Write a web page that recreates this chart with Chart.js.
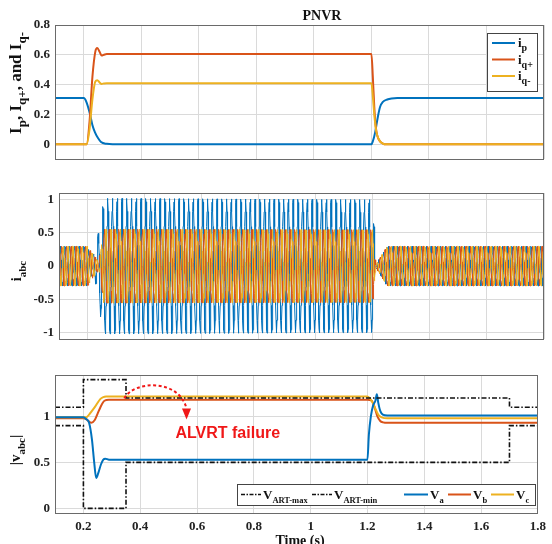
<!DOCTYPE html>
<html><head><meta charset="utf-8">
<script src="https://cdn.jsdelivr.net/npm/chart.js@4.4.0/dist/chart.umd.min.js"></script>
<style>
html,body{margin:0;padding:0;background:#fff;}
body{width:552px;height:544px;position:relative;overflow:hidden;}
canvas{position:absolute;left:0;}
</style></head><body>
<canvas id="c1" width="552" height="172" style="top:0px"></canvas>
<canvas id="c2" width="552" height="176" style="top:176px"></canvas>
<canvas id="c3" width="552" height="192" style="top:352px"></canvas>
<script>
// ---------- tick values ----------
const xTicks    = [0.2, 0.4, 0.6, 0.8, 1, 1.2, 1.4, 1.6, 1.8];
const topYTicks = [0, 0.2, 0.4, 0.6, 0.8];
const midYTicks = [-1, -0.5, 0, 0.5, 1];
const botYTicks = [0, 0.5, 1];

// ---------- top panel: Ip, Iq+, Iq- ----------
const ipT  = [0.1, 0.2, 0.21, 0.222, 0.23, 0.239, 0.25, 0.26, 0.28, 0.3, 1.2, 1.205, 1.213, 1.222, 1.23, 1.24, 1.255, 1.27, 1.29, 1.8];
const ipV  = [0.31, 0.31, 0.28, 0.2, 0.13, 0.08, 0.04, 0.015, 0.003, 0, 0, 0.02, 0.08, 0.18, 0.25, 0.285, 0.30, 0.307, 0.31, 0.31];
const iqpT = [0.1, 0.21, 0.22, 0.23, 0.24, 0.247, 0.255, 0.262, 0.27, 0.28, 1.2, 1.205, 1.21, 1.215, 1.22, 1.23, 1.24, 1.25, 1.8];
const iqpV = [0, 0, 0.15, 0.45, 0.62, 0.645, 0.62, 0.595, 0.6, 0.605, 0.605, 0.45, 0.25, 0.12, 0.06, 0.02, 0.005, 0, 0];
const iqmT = [0.1, 0.21, 0.22, 0.23, 0.24, 0.247, 0.255, 0.262, 0.27, 0.28, 1.2, 1.205, 1.21, 1.215, 1.22, 1.23, 1.24, 1.25, 1.8];
const iqmV = [0, 0, 0.1, 0.3, 0.42, 0.43, 0.415, 0.405, 0.408, 0.41, 0.41, 0.32, 0.2, 0.11, 0.06, 0.02, 0.005, 0, 0];

// ---------- middle panel: phase-current amplitude envelopes ----------
const gridFreq = 60; // Hz
const iaEnvT = [0.1, 0.2, 0.215, 0.232, 0.245, 0.262, 1.2, 1.21, 1.25, 1.8];
const iaEnvA = [0.3, 0.3, 0.12, 0.3, 0.75, 1.02, 1.0, 0.02, 0.3, 0.3];
const ibcEnvT = [0.1, 0.2, 0.215, 0.24, 0.257, 1.2, 1.21, 1.25, 1.8];
const ibcEnvA = [0.3, 0.3, 0.2, 0.06, 0.56, 0.55, 0.02, 0.3, 0.3];

// ---------- bottom panel: |v_abc| and LVRT limits ----------
const artT   = [0.1, 0.2, 0.35, 1.7, 1.8];
const artMax = [1.1, 1.4, 1.2, 1.1, 1.1];
const artMin = [0.9, 0, 0.5, 0.9, 0.9];
const vaT = [0.1, 0.2, 0.21, 0.22, 0.23, 0.238, 0.245, 0.252, 0.262, 0.27, 0.277, 0.29, 1.2, 1.205, 1.212, 1.22, 1.228, 1.233, 1.238, 1.245, 1.254, 1.27, 1.8];
const vaV = [0.99, 0.99, 0.97, 0.93, 0.75, 0.5, 0.33, 0.38, 0.48, 0.53, 0.54, 0.53, 0.53, 0.8, 1.0, 1.12, 1.17, 1.24, 1.15, 1.06, 1.02, 1.01, 1.01];
const vbT = [0.1, 0.2, 0.21, 0.22, 0.228, 0.24, 0.25, 0.26, 0.274, 0.29, 1.2, 1.215, 1.225, 1.235, 1.245, 1.255, 1.27, 1.8];
const vbV = [0.98, 0.98, 0.97, 0.945, 0.93, 0.96, 1.03, 1.1, 1.17, 1.18, 1.18, 1.17, 1.1, 1.0, 0.95, 0.935, 0.93, 0.93];
const vcT = [0.1, 0.21, 0.22, 0.24, 0.26, 0.27, 0.28, 1.2, 1.21, 1.22, 1.23, 1.24, 1.25, 1.27, 1.8];
const vcV = [0.99, 0.99, 1.02, 1.1, 1.19, 1.21, 1.215, 1.215, 1.19, 1.14, 1.07, 1.01, 0.99, 0.98, 0.98];

// ---------- styling ----------
const COL = {a:'#0072BD', b:'#D95319', c:'#EDB120'};
const GRID = '#dadada';
const SERIF = '"Liberation Serif","Times New Roman",serif';
const tickFont = {family: SERIF, size: 13, weight: 'bold'};
const fmt = v => String(+(+v).toFixed(2));

function pts(t, v){ return t.map((x,i)=>({x:x, y:v[i]})); }
function envAt(T, A, t){
  if (t <= T[0]) return A[0];
  for (let i=1;i<T.length;i++){ if (t <= T[i]){ const f=(t-T[i-1])/(T[i]-T[i-1]); return A[i-1]+f*(A[i]-A[i-1]); } }
  return A[A.length-1];
}
function phaseWave(T, A, shift){
  const out=[]; const step = 1/(gridFreq*20);
  for (let t=0.1; t<=1.8+1e-9; t+=step){ out.push({x:t, y:envAt(T,A,t)*Math.sin(2*Math.PI*gridFreq*t+shift)}); }
  return out;
}

function xScale(show, h){
  return {type:'linear', min:0.1, max:1.8,
    afterBuildTicks:s=>{s.ticks = xTicks.map(v=>({value:v}));},
    ticks:{display:show, padding:6, font:tickFont, color:'#222', maxRotation:0, autoSkip:false, callback:v=>fmt(v)},
    grid:{color:GRID, drawTicks:false, lineWidth:1}, border:{display:false},
    afterFit:s=>{s.height=h;}};
}
function yScale(min, max, tk, w){
  return {type:'linear', min:min, max:max,
    afterBuildTicks:s=>{s.ticks = tk.map(v=>({value:v}));},
    ticks:{padding:5, font:tickFont, color:'#222', autoSkip:false, callback:v=>fmt(v)},
    grid:{color:GRID, drawTicks:false, lineWidth:1}, border:{display:false},
    afterFit:s=>{s.width=w;}};
}
function baseOpts(padTop, xs, ys){
  return {responsive:false, animation:false, events:[],
    layout:{padding:{top:padTop, right:8, left:0, bottom:0}},
    elements:{point:{radius:0}},
    plugins:{legend:{display:false}, tooltip:{enabled:false}},
    scales:{x:xs, y:ys}};
}

// rich text with subscripts
function richW(ctx, segs, mf, sf){ let w=0; for (const s of segs){ ctx.font = s.sub?sf:mf; w += ctx.measureText(s.t).width; } return w; }
function drawRich(ctx, segs, x, y, mf, sf, subDy, align, rot, color){
  ctx.save(); ctx.translate(x,y); if (rot) ctx.rotate(-Math.PI/2);
  const w = richW(ctx, segs, mf, sf);
  let cx = align==='center' ? -w/2 : 0;
  ctx.textBaseline='alphabetic'; ctx.textAlign='left'; ctx.fillStyle=color||'#111';
  for (const s of segs){ ctx.font = s.sub?sf:mf; ctx.fillText(s.t, cx, s.sub?subDy:0); cx += ctx.measureText(s.t).width; }
  ctx.restore(); return w;
}
function frame(chart){
  const c=chart.ctx, a=chart.chartArea;
  c.save(); c.strokeStyle='#6a6a6a'; c.lineWidth=1;
  c.strokeRect(Math.round(a.left)+0.5, Math.round(a.top)+0.5, Math.round(a.right-a.left)-1, Math.round(a.bottom-a.top));
  c.restore();
}
const MF = 'bold 14px '+SERIF, SF = 'bold 11px '+SERIF;

// ---------- chart 1 ----------
new Chart(document.getElementById('c1'), {
  type:'line',
  data:{datasets:[
    {data:pts(iqmT,iqmV), borderColor:COL.c, borderWidth:2, cubicInterpolationMode:'monotone'},
    {data:pts(iqpT,iqpV), borderColor:COL.b, borderWidth:2, cubicInterpolationMode:'monotone'},
    {data:pts(ipT,ipV),   borderColor:COL.a, borderWidth:2, cubicInterpolationMode:'monotone'}
  ]},
  options:baseOpts(25, xScale(false,5), yScale(-0.1,0.8,topYTicks,55)),
  plugins:[{id:'p1', afterDraw(chart){
    const c=chart.ctx; frame(chart);
    c.save(); c.font='bold 14px '+SERIF; c.fillStyle='#111'; c.textAlign='center'; c.textBaseline='middle';
    c.fillText('PNVR', 322, 16); c.restore();
    drawRich(c, [{t:'I'},{t:'p',sub:1},{t:', I'},{t:'q+',sub:1},{t:', and I'},{t:'q-',sub:1}], 21, 83, 'bold 17px '+SERIF, 'bold 13px '+SERIF, 5, 'center', true);
    // legend
    const lx=487, ly=33, lw=50, lh=58;
    c.save(); c.fillStyle='#fff'; c.fillRect(lx,ly,lw,lh); c.strokeStyle='#444'; c.lineWidth=1; c.strokeRect(lx+0.5,ly+0.5,lw,lh);
    const items=[{col:COL.a, sub:'p'},{col:COL.b, sub:'q+'},{col:COL.c, sub:'q-'}];
    items.forEach((it,i)=>{
      const y = ly+10+i*16.5;
      c.strokeStyle=it.col; c.lineWidth=2; c.beginPath(); c.moveTo(lx+5,y); c.lineTo(lx+28,y); c.stroke();
      drawRich(c, [{t:'i'},{t:it.sub,sub:1}], lx+31, y+4, 'bold 13px '+SERIF, 'bold 10px '+SERIF, 4, 'left', false);
    });
    c.restore();
  }}]
});

// ---------- chart 2 ----------
new Chart(document.getElementById('c2'), {
  type:'line',
  data:{datasets:[
    {data:phaseWave(ibcEnvT,ibcEnvA, 2*Math.PI/3),  borderColor:COL.c, borderWidth:1, tension:0},
    {data:phaseWave(ibcEnvT,ibcEnvA, -2*Math.PI/3), borderColor:COL.b, borderWidth:1, tension:0},
    {data:phaseWave(iaEnvT,iaEnvA, 0),              borderColor:COL.a, borderWidth:1, tension:0}
  ]},
  options:baseOpts(17, xScale(false,4), yScale(-1.1,1.1,midYTicks,59)),
  plugins:[{id:'p2', afterDraw(chart){
    const c=chart.ctx; frame(chart);
    drawRich(c, [{t:'i'},{t:'abc',sub:1}], 21, 95, MF, SF, 5, 'center', true);
  }}]
});

// ---------- chart 3 ----------
const annot = {start:[0.344,1.196], c1:[0.378,1.391], c2:[0.535,1.413], end:[0.563,1.087], tip:[0.563,0.967], text:[0.524,0.815]};
new Chart(document.getElementById('c3'), {
  type:'line',
  data:{datasets:[
    {data:pts(artT,artMin), borderColor:'#111', borderWidth:1.6, stepped:true, borderDash:[5,2,1.5,2]},
    {data:pts(artT,artMax), borderColor:'#111', borderWidth:1.6, stepped:true, borderDash:[5,2,1.5,2]},
    {data:pts(vaT,vaV), borderColor:COL.a, borderWidth:2, cubicInterpolationMode:'monotone'},
    {data:pts(vcT,vcV), borderColor:COL.c, borderWidth:2, cubicInterpolationMode:'monotone'},
    {data:pts(vbT,vbV), borderColor:COL.b, borderWidth:2, cubicInterpolationMode:'monotone'}
  ]},
  options:baseOpts(23, xScale(true,31), yScale(-0.05,1.45,botYTicks,55)),
  plugins:[{id:'p3', afterDraw(chart){
    const c=chart.ctx; frame(chart);
    const X=chart.scales.x, Y=chart.scales.y;
    const P = p => [X.getPixelForValue(p[0]), Y.getPixelForValue(p[1])];
    drawRich(c, [{t:'|v'},{t:'abc',sub:1},{t:'|'}], 20, 98, 'bold 15px '+SERIF, SF, 5, 'center', true);
    // annotation
    c.save();
    const s=P(annot.start), a1=P(annot.c1), a2=P(annot.c2), e=P(annot.end), tp=P(annot.tip);
    c.strokeStyle='#f01818'; c.lineWidth=2; c.setLineDash([3,2.5]);
    c.beginPath(); c.moveTo(s[0],s[1]); c.bezierCurveTo(a1[0],a1[1],a2[0],a2[1],e[0],e[1]); c.stroke();
    c.setLineDash([]); c.fillStyle='#f01818';
    c.beginPath(); c.moveTo(e[0]-4.5,e[1]); c.lineTo(e[0]+4.5,e[1]); c.lineTo(tp[0],tp[1]); c.closePath(); c.fill();
    const tx=P(annot.text);
    c.font='bold 16px "Liberation Sans",Arial,sans-serif'; c.textAlign='left'; c.textBaseline='middle';
    c.fillText('ALVRT failure', tx[0], tx[1]);
    c.restore();
    // legend
    const lx=237, ly=132, lw=298, lh=21, my=ly+10.5;
    c.save(); c.fillStyle='#fff'; c.fillRect(lx,ly,lw,lh); c.strokeStyle='#444'; c.lineWidth=1; c.strokeRect(lx+0.5,ly+0.5,lw,lh);
    const items=[
      {col:'#111', dash:[4,1.5,1.5,1.5], w:1.6, sub:'ART-max', x:241, len:20},
      {col:'#111', dash:[4,1.5,1.5,1.5], w:1.6, sub:'ART-min', x:312, len:20},
      {col:COL.a, dash:[], w:2, sub:'a', x:404, len:24},
      {col:COL.b, dash:[], w:2, sub:'b', x:448, len:23},
      {col:COL.c, dash:[], w:2, sub:'c', x:491, len:23}];
    items.forEach(it=>{
      c.strokeStyle=it.col; c.lineWidth=it.w; c.setLineDash(it.dash);
      c.beginPath(); c.moveTo(it.x,my); c.lineTo(it.x+it.len,my); c.stroke(); c.setLineDash([]);
      drawRich(c, [{t:'V'},{t:it.sub,sub:1}], it.x+it.len+2, my+4, 'bold 13px '+SERIF, 'bold 8.5px '+SERIF, 4, 'left', false);
    });
    c.restore();
    // x title
    c.save(); c.font='bold 14px '+SERIF; c.fillStyle='#111'; c.textAlign='center'; c.textBaseline='top';
    c.fillText('Time (s)', 300, 182); c.restore();
  }}]
});
</script>
</body></html>
